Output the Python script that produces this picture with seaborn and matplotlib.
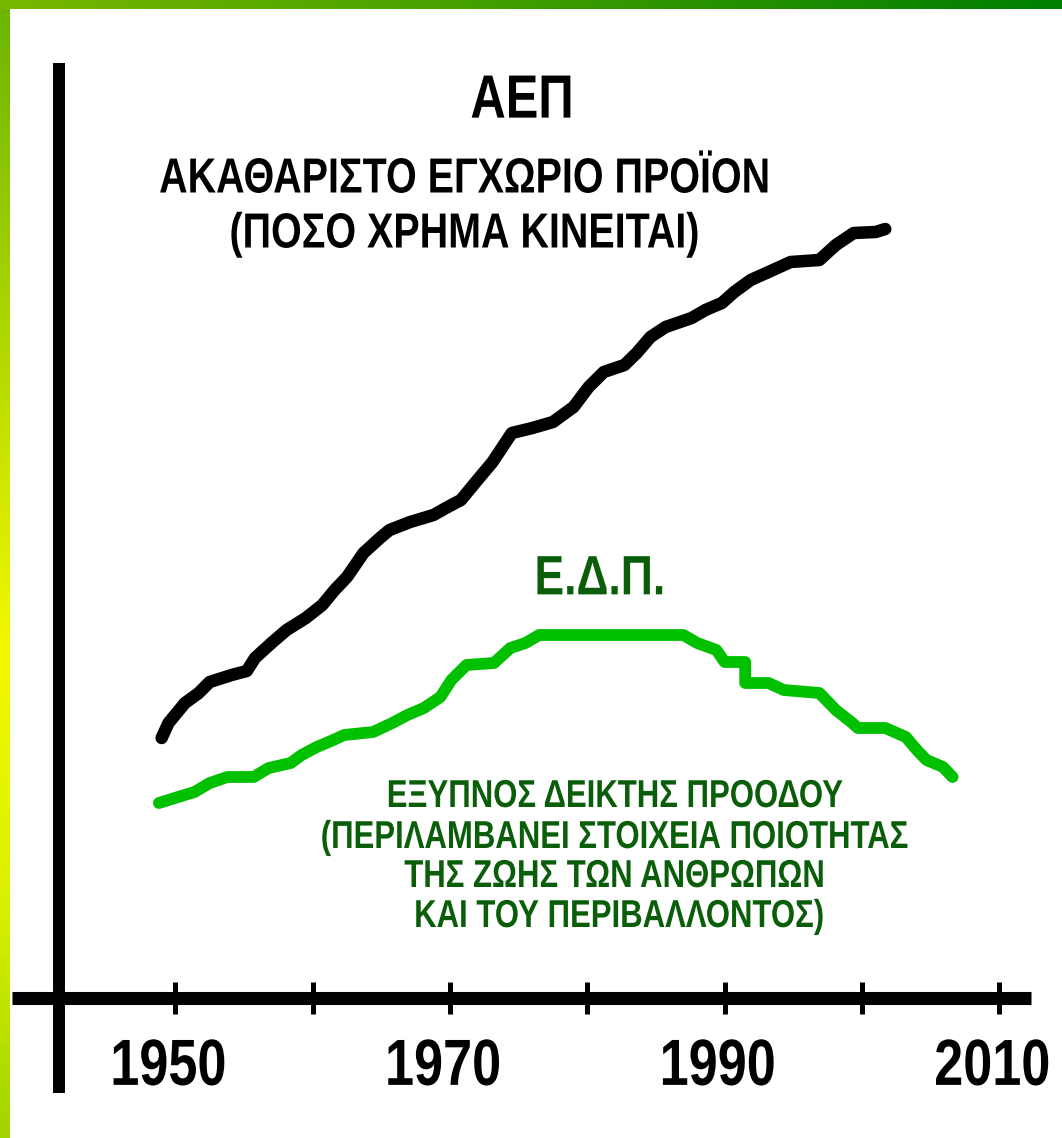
import numpy as np
import pandas as pd
import matplotlib
matplotlib.use("Agg")
import matplotlib.pyplot as plt
from matplotlib.colors import LinearSegmentedColormap
from matplotlib.patheffects import AbstractPathEffect
from matplotlib.transforms import Affine2D
import seaborn as sns

# ── Data (years / index values) ─────────────────────────────────────────────
gdp_years = [1949.0, 1949.5, 1950.7, 1951.7, 1952.5, 1954.1, 1955.2, 1955.8,
             1957.0, 1958.1, 1959.5, 1960.7, 1961.6, 1962.5, 1963.7, 1964.9,
             1965.6, 1967.1, 1968.8, 1969.7, 1970.8, 1972.0, 1973.1, 1974.5,
             1976.0, 1977.5, 1979.0, 1980.1, 1981.2, 1982.7, 1983.6, 1984.6,
             1985.7, 1987.6, 1988.6, 1989.8, 1990.7, 1991.9, 1993.2, 1994.8,
             1996.9, 1998.1, 1999.4, 2001.0, 2001.7]
gdp_values = [26.0, 27.5, 29.5, 30.5, 31.6, 32.3, 32.7, 34.0,
              35.5, 36.8, 38.0, 39.3, 40.8, 42.1, 44.5, 46.0,
              46.8, 47.6, 48.3, 49.0, 49.8, 51.8, 53.6, 56.5,
              57.0, 57.6, 59.1, 61.1, 62.6, 63.3, 64.5, 66.1,
              67.1, 68.0, 68.8, 69.5, 70.6, 71.8, 72.6, 73.6,
              73.8, 75.3, 76.5, 76.6, 76.9]

gpi_years = [1948.8, 1950.2, 1951.4, 1952.5, 1953.8, 1955.7, 1956.8, 1958.4,
             1959.2, 1960.3, 1961.5, 1962.3, 1964.4, 1965.8, 1966.9, 1968.1,
             1969.3, 1970.1, 1971.2, 1973.2, 1974.4, 1975.5, 1976.5, 1987.0,
             1988.0, 1989.4, 1990.0, 1991.5, 1991.5, 1993.2, 1994.3, 1996.9,
             1998.1, 1999.3, 1999.7, 2001.7, 2003.2, 2004.0, 2004.7, 2005.9,
             2006.6]
gpi_values = [19.5, 20.1, 20.6, 21.5, 22.1, 22.1, 23.0, 23.5,
              24.3, 25.1, 25.8, 26.3, 26.6, 27.5, 28.3, 29.0,
              30.1, 31.8, 33.3, 33.5, 35.0, 35.5, 36.3, 36.3,
              35.5, 34.8, 33.6, 33.6, 31.5, 31.5, 30.8, 30.5,
              28.8, 27.5, 27.0, 27.0, 26.1, 24.8, 23.8, 23.1,
              22.1]

tick_years = [1950, 1960, 1970, 1980, 1990, 2000, 2010]
label_years = ["1950", "1970", "1990", "2010"]

gdp_title = "ΑΕΠ"
gdp_lines = ["ΑΚΑΘΑΡΙΣΤΟ ΕΓΧΩΡΙΟ ΠΡΟΪΟΝ", "(ΠΟΣΟ ΧΡΗΜΑ ΚΙΝΕΙΤΑΙ)"]
gpi_title = "Ε.Δ.Π."
gpi_lines = ["ΕΞΥΠΝΟΣ ΔΕΙΚΤΗΣ ΠΡΟΟΔΟΥ",
             "(ΠΕΡΙΛΑΜΒΑΝΕΙ ΣΤΟΙΧΕΙΑ ΠΟΙΟΤΗΤΑΣ",
             "ΤΗΣ ΖΩΗΣ ΤΩΝ ΑΝΘΡΩΠΩΝ",
             " ΚΑΙ ΤΟΥ ΠΕΡΙΒΑΛΛΟΝΤΟΣ)"]

STRETCH = 1.25  # no narrow font installed -> stretch glyphs vertically instead


class Tall(AbstractPathEffect):
    def __init__(self, cx, cy, sy=STRETCH):
        super().__init__()
        self.cx, self.cy, self.sy = cx, cy, sy

    def draw_path(self, renderer, gc, tpath, affine, rgbFace=None):
        stretch = (Affine2D().translate(-self.cx, -self.cy)
                   .scale(1, self.sy).translate(self.cx, self.cy))
        renderer.draw_path(gc, tpath, affine + stretch, rgbFace)


# ── Style ────────────────────────────────────────────────────────────────────
sns.set_theme(style="white")
plt.rcParams["font.family"] = ["Liberation Sans", "DejaVu Sans"]

W, H = 1062, 1138
fig = plt.figure(figsize=(W / 100, H / 100), dpi=100)
fig.patch.set_facecolor("white")

# green gradient frame (left + top strips)
left_cmap = LinearSegmentedColormap.from_list(
    "left", [(0, "#6ab400"), (0.3, "#b0d800"), (0.57, "#f4f800"),
             (0.8, "#d8f000"), (1, "#a0d400")])
top_cmap = LinearSegmentedColormap.from_list(
    "top", [(0, "#78b800"), (0.45, "#44a000"), (0.9, "#0a8400"), (1, "#008000")])
ax_l = fig.add_axes([0, 0, 10 / W, 1])
ax_l.imshow(np.linspace(0, 1, 256)[:, None], aspect="auto", cmap=left_cmap)
ax_l.axis("off")
ax_t = fig.add_axes([0, 1 - 9 / H, 1, 9 / H])
ax_t.imshow(np.linspace(0, 1, 256)[None, :], aspect="auto", cmap=top_cmap)
ax_t.axis("off")

ax = fig.add_axes([0, 0, 1, 1], zorder=2)
ax.patch.set_alpha(0)

# axes drawn by hand (the picture's axes cross and overshoot)
ax.plot([1941.53, 1941.53], [93.5, -9.5], color="black", lw=8.6,
        solid_capstyle="butt")
ax.plot([1938.1, 2012.3], [0, 0], color="black", lw=9.4,
        solid_capstyle="butt")
ax.vlines(tick_years, -1.6, 1.6, color="black", lw=3.6)

# curves
gdp = pd.DataFrame({"year": gdp_years, "value": gdp_values})
gpi = pd.DataFrame({"year": gpi_years, "value": gpi_values})
sns.lineplot(data=gdp, x="year", y="value", ax=ax, color="black", lw=9,
             estimator=None, sort=False, solid_capstyle="round",
             solid_joinstyle="round")
sns.lineplot(data=gpi, x="year", y="value", ax=ax, color="#00c000", lw=8.5,
             estimator=None, sort=False, solid_capstyle="round",
             solid_joinstyle="round")
ax.set_xlim(1937.23, 2014.57)
ax.set_ylim(-14.0, 99.8)
ax.axis("off")

# year labels
for lab in label_years:
    x = int(lab) - 0.5
    cx, cy = ax.transData.transform((x, -7.0))
    ax.text(x, -7.0, lab, ha="center", va="center", fontsize=47 / STRETCH,
            fontweight="bold", color="black", path_effects=[Tall(cx, cy)])


# annotations
def ftext(px, py, s, size, color):
    fig.text(px / W, 1 - py / H, s, ha="center", va="center",
             fontsize=size / STRETCH, fontweight="bold", color=color,
             zorder=3, path_effects=[Tall(px, H - py)])


ftext(522, 102, gdp_title, 44, "black")
ftext(464, 180, gdp_lines[0], 35.5, "black")
ftext(464, 235, gdp_lines[1], 35.5, "black")

dark_green = "#0a5e0a"
ftext(600, 580, gpi_title, 40, dark_green)
for py, s in zip([797, 838, 877, 917], gpi_lines):
    ftext(615, py, s, 28, dark_green)

fig.savefig("out.png", dpi=100, facecolor="white")
